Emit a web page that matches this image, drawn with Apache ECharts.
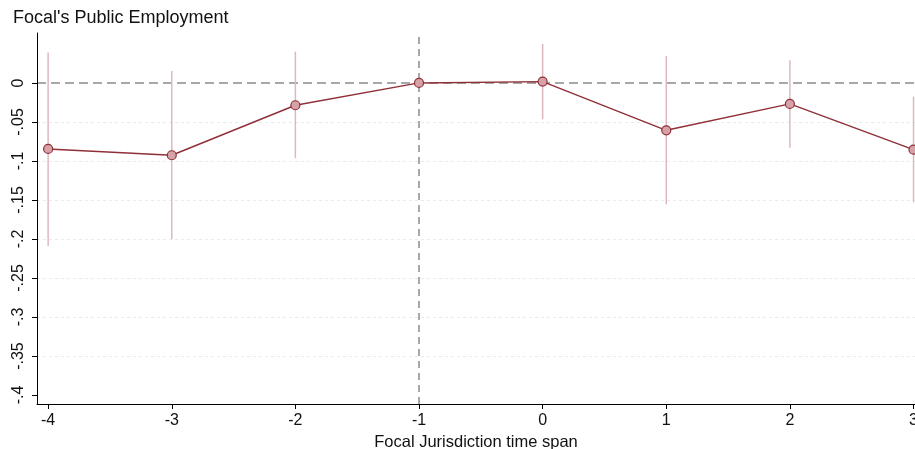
<!DOCTYPE html>
<html>
<head>
<meta charset="utf-8">
<script src="https://cdn.jsdelivr.net/npm/echarts@6/dist/echarts.min.js"></script>
<style>html,body{margin:0;padding:0;background:#fff;overflow:hidden}#c{width:915px;height:449px}</style>
</head>
<body>
<div id="c"></div>
<script>
var periods = [-4, -3, -2, -1, 0, 1, 2, 3];
var estimates = [-0.0846, -0.0927, -0.0286, 0, 0.0017, -0.0607, -0.0269, -0.0855];
var ciLow = [-0.209, -0.2004, -0.0966, null, -0.0466, -0.1556, -0.083, -0.153];
var ciHigh = [0.039, 0.0154, 0.040, null, 0.050, 0.0346, 0.029, -0.0176];
var yTicks = [0, -0.05, -0.1, -0.15, -0.2, -0.25, -0.3, -0.35, -0.4];
var xTicks = [-4, -3, -2, -1, 0, 1, 2, 3];
var gridValues = [-0.05, -0.1, -0.15, -0.2, -0.25, -0.3, -0.35];

var font = 'Liberation Sans, Arial, sans-serif';
function fmtY(v) {
  if (Math.abs(v) < 1e-9) return '0';
  var s = String(Math.round(v * 1000) / 1000);
  return s.replace('0.', '.');
}

var pointData = periods.map(function (p, i) { return [p, estimates[i]]; });
var ciData = [];
periods.forEach(function (p, i) {
  if (ciLow[i] !== null) ciData.push([p, ciLow[i], ciHigh[i]]);
});

var chart = echarts.init(document.getElementById('c'), null, {renderer: 'canvas'});
chart.setOption({
  animation: false,
  backgroundColor: '#fff',
  title: {
    text: "Focal's Public Employment",
    left: 8, top: 4,
    textStyle: {fontFamily: font, fontSize: 18, fontWeight: 'normal', color: '#111'}
  },
  grid: {left: 37, right: 0, top: 33, bottom: 45, containLabel: false, outerBoundsMode: 'none'},
  xAxis: {
    type: 'value',
    min: -4.09, max: 3.012,
    name: 'Focal Jurisdiction time span',
    nameLocation: 'middle', nameGap: 22,
    nameTextStyle: {fontFamily: font, fontSize: 16.5, color: '#111'},
    axisLine: {show: true, onZero: false, lineStyle: {color: '#000', width: 1}},
    axisTick: {show: true, length: 5, customValues: xTicks, lineStyle: {color: '#000'}},
    axisLabel: {customValues: xTicks, fontFamily: font, fontSize: 16, color: '#111', margin: 9,
      showMinLabel: true, showMaxLabel: true, hideOverlap: false},
    splitLine: {show: false}
  },
  yAxis: {
    type: 'value',
    min: -0.4115, max: 0.064,
    axisLine: {show: true, onZero: false, lineStyle: {color: '#000', width: 1}},
    axisTick: {show: true, length: 5, customValues: yTicks, lineStyle: {color: '#000'}},
    axisLabel: {
      customValues: yTicks, rotate: 90, fontFamily: font, fontSize: 16, color: '#111', margin: 10,
      formatter: fmtY
    },
    splitLine: {show: false}
  },
  series: [
    {
      type: 'custom',
      data: ciData,
      z: 1,
      clip: true,
      renderItem: function (params, api) {
        var a = api.coord([api.value(0), api.value(1)]);
        var b = api.coord([api.value(0), api.value(2)]);
        return {
          type: 'line',
          shape: {x1: a[0], y1: a[1], x2: b[0], y2: b[1]},
          style: {stroke: '#ddb9bd', lineWidth: 1.5}
        };
      },
      markLine: {
        silent: true, symbol: 'none', label: {show: false}, z: 0,
        data: gridValues.map(function (v) {
          return {yAxis: v, lineStyle: {color: '#e4ecec', width: 1, type: [3, 3]}};
        }).concat([
          {yAxis: 0, lineStyle: {color: '#8c8c8c', width: 1.5, type: [9, 5]}},
          {xAxis: -1, lineStyle: {color: '#8c8c8c', width: 1.5, type: [7, 5]}}
        ])
      }
    },
    {
      type: 'line',
      data: pointData,
      z: 3,
      symbol: 'circle',
      symbolSize: 9,
      lineStyle: {color: '#8f2f38', width: 1.4},
      itemStyle: {color: '#d6a2a8', borderColor: '#8f2f38', borderWidth: 1.2}
    }
  ]
});
</script>
</body>
</html>
